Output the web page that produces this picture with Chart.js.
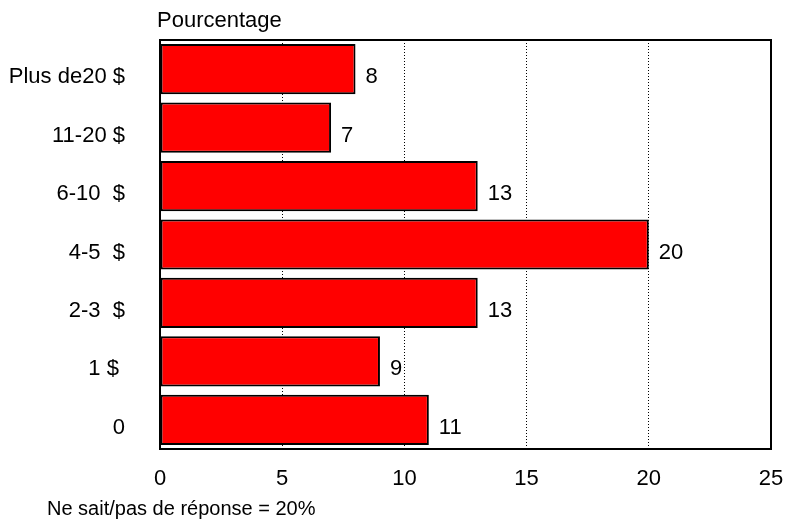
<!DOCTYPE html>
<html lang="fr">
<head>
    <meta charset="UTF-8">
    <title>Pourcentage</title>
    <script src="https://cdn.jsdelivr.net/npm/chart.js"></script>
    <style>
        body {
            margin: 0;
            padding: 0;
            background: #ffffff;
        }

        .wrap {
            position: relative;
            width: 788px;
            height: 522px;
        }
    </style>
</head>
<body>
    <div class="wrap">
        <canvas id="barChart"></canvas>
    </div>

    <script>
        // data
        const categories = ['Plus de20 $', '11-20 $', '6-10  $', '4-5  $', '2-3  $', '1 $ ', '0'];
        const values = [8, 7, 13, 20, 13, 9, 11];
        const xTicks = [0, 5, 10, 15, 20, 25];
        const axisTitle = 'Pourcentage';
        const footNote = 'Ne sait/pas de réponse = 20%';

        const FONT = "'Liberation Sans', Arial, sans-serif";

        // title, footnote, frame and the numbers next to the bars
        const extras = {
            id: 'extras',
            afterDatasetsDraw(chart) {
                const ctx = chart.ctx;
                const area = chart.chartArea;
                ctx.save();

                // frame round the plot
                ctx.strokeStyle = '#000';
                ctx.lineWidth = 2;
                ctx.strokeRect(area.left, area.top, area.right - area.left, area.bottom - area.top);

                // value labels
                ctx.fillStyle = '#000';
                ctx.font = '22px ' + FONT;
                ctx.textAlign = 'left';
                ctx.textBaseline = 'middle';
                chart.getDatasetMeta(0).data.forEach((bar, i) => {
                    ctx.fillText(values[i], bar.x + 10, bar.y + 8);
                });

                // title above the plot
                ctx.font = '22px ' + FONT;
                ctx.fillText(axisTitle, area.left - 3, 21);

                // footnote
                ctx.font = '20px ' + FONT;
                ctx.fillText(footNote, 47, 509);

                ctx.restore();
            }
        };

        const ctxBar = document.getElementById('barChart').getContext('2d');
        const barChart = new Chart(ctxBar, {
            type: 'bar',
            data: {
                labels: categories,
                datasets: [{
                    data: values,
                    backgroundColor: '#ff0000',
                    borderColor: '#000000',
                    borderWidth: 2,
                    borderSkipped: false,
                    barPercentage: 0.86,
                    categoryPercentage: 1
                }]
            },
            options: {
                indexAxis: 'y',
                responsive: true,
                maintainAspectRatio: false,
                animation: false,
                layout: {
                    padding: { top: 40, right: 17, left: 0, bottom: 0 }
                },
                plugins: {
                    legend: { display: false },
                    tooltip: { enabled: false }
                },
                scales: {
                    x: {
                        min: 0,
                        max: 25,
                        afterFit(scale) {
                            scale.height = 73;
                            scale.paddingLeft = 0;
                            scale.paddingRight = 0;
                        },
                        afterBuildTicks(scale) {
                            scale.ticks = xTicks.map(v => ({ value: v }));
                        },
                        ticks: {
                            color: '#000',
                            padding: 17,
                            font: { family: FONT, size: 22 }
                        },
                        grid: {
                            color: '#000',
                            lineWidth: 1,
                            drawTicks: false
                        },
                        border: {
                            display: false,
                            dash: [1, 2]
                        }
                    },
                    y: {
                        afterFit(scale) {
                            scale.width = 160;
                            scale.paddingTop = 0;
                            scale.paddingBottom = 0;
                        },
                        ticks: {
                            color: '#000',
                            padding: 27,
                            labelOffset: 8,
                            font: { family: FONT, size: 22 }
                        },
                        grid: {
                            display: false
                        },
                        border: {
                            display: false
                        }
                    }
                }
            },
            plugins: [extras]
        });
    </script>
</body>
</html>
